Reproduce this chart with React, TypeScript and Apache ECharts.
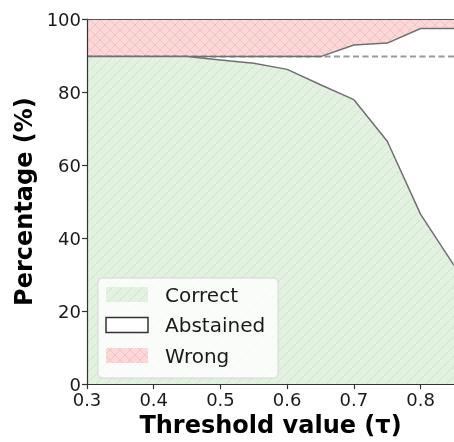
import React, { useEffect, useRef } from "react";
import * as echarts from "echarts";

const thresholds = [0.3, 0.35, 0.4, 0.45, 0.5, 0.55, 0.6, 0.65, 0.7, 0.75, 0.8, 0.85];
const correctPct = [89.7, 89.7, 89.7, 89.7, 88.8, 87.9, 86.2, 82.0, 77.9, 66.5, 46.5, 32.5];
const abstainedPct = [0, 0, 0, 0, 0.9, 1.8, 3.5, 7.7, 15.0, 26.9, 50.9, 64.9];
const wrongPct = [10.3, 10.3, 10.3, 10.3, 10.3, 10.3, 10.3, 10.3, 7.1, 6.6, 2.6, 2.6];
const baselinePct = 89.7;
const seriesNames = ["Correct", "Abstained", "Wrong"];
const xTickValues = [0.3, 0.4, 0.5, 0.6, 0.7, 0.8];
const yTickValues = [0, 20, 40, 60, 80, 100];

function hatch(bg: string, stroke: string, cross: boolean) {
  const s = 10;
  const c = document.createElement("canvas");
  c.width = s;
  c.height = s;
  const ctx = c.getContext("2d")!;
  ctx.fillStyle = bg;
  ctx.fillRect(0, 0, s, s);
  ctx.strokeStyle = stroke;
  ctx.lineWidth = 1;
  const seg = (a: number, b: number, c2: number, d: number) => {
    ctx.beginPath();
    ctx.moveTo(a, b);
    ctx.lineTo(c2, d);
    ctx.stroke();
  };
  seg(-2, s + 2, s + 2, -2);
  seg(-2, 2, 2, -2);
  seg(s - 2, s + 2, s + 2, s - 2);
  if (cross) {
    seg(-2, -2, s + 2, s + 2);
    seg(s - 2, -2, s + 2, 2);
    seg(-2, s - 2, 2, s + 2);
  }
  return c;
}

export default function App() {
  const ref = useRef<HTMLDivElement>(null);
  useEffect(() => {
    if (!ref.current) return;
    const chart = echarts.init(ref.current, null, { renderer: "svg" });
    const greenPat = { image: hatch("#e2f1e0", "#cfe6cc", false), repeat: "repeat" };
    const redPat = { image: hatch("#fcd8d9", "#f4c0c3", true), repeat: "repeat" };
    const greenPat2 = { image: hatch("#e2f1e0", "#cfe6cc", false), repeat: "repeat" };
    const redPat2 = { image: hatch("#fcd8d9", "#f4c0c3", true), repeat: "repeat" };
    const lineCol = "#707070";
    const font = "DejaVu Sans";
    // upper boundary of the abstained band = correct + abstained (= 100 - wrong)
    const upperPct = correctPct.map((c, i) => c + abstainedPct[i]);
    const pairs = (arr: number[]) => thresholds.map((t, i) => [t, arr[i]]);
    const xMin = thresholds[0];
    const xMax = thresholds[thresholds.length - 1];
    const legendFills = [greenPat2, "#ffffff", redPat2];
    const legendStrokes = [null, "#333333", null];
    const legendTop = 287;
    const legendStep = 30.5;
    const legendItems: any[] = [];
    seriesNames.forEach((n, i) => {
      legendItems.push({
        type: "rect",
        shape: { x: 106, y: legendTop + i * legendStep, width: 42, height: 15 },
        style: {
          fill: legendFills[i] as any,
          stroke: legendStrokes[i] || undefined,
          lineWidth: legendStrokes[i] ? 1.5 : 0,
        },
      });
      legendItems.push({
        type: "text",
        x: 165,
        y: legendTop + 7.5 + i * legendStep,
        style: {
          text: n,
          fill: "#1a1a1a",
          font: `20px '${font}'`,
          verticalAlign: "middle",
          align: "left",
        },
      });
    });
    chart.setOption({
      animation: false,
      grid: { left: 87, right: -3, top: 19, bottom: 57 },
      xAxis: [
        {
          type: "value",
          min: 0.3,
          max: 0.85,
          interval: 0.1,
          name: "Threshold value (τ)",
          nameLocation: "middle",
          nameGap: 26,
          nameTextStyle: { fontFamily: font, fontWeight: "bold", fontSize: 24, color: "#000" },
          axisLine: { show: true, lineStyle: { color: "#333", width: 1.2 } },
          axisTick: { show: true, length: 5, lineStyle: { color: "#333", width: 1.2 } },
          axisLabel: {
            fontFamily: font,
            fontSize: 18,
            color: "#1a1a1a",
            margin: 6,
            showMaxLabel: false,
            formatter: (v: number) => {
              const hit = xTickValues.find((t) => Math.abs(t - v) < 1e-6);
              return hit !== undefined ? hit.toFixed(1) : "";
            },
          },
          splitLine: { show: false },
          z: 10,
        },
        {
          type: "value",
          position: "top",
          min: 0.3,
          max: 0.85,
          axisLine: { show: true, onZero: false, lineStyle: { color: "#555", width: 1.2 } },
          axisTick: { show: false },
          axisLabel: { show: false },
          splitLine: { show: false },
          z: 10,
        },
      ],
      yAxis: {
        type: "value",
        min: 0,
        max: 100,
        interval: 20,
        name: "Percentage (%)",
        nameLocation: "middle",
        nameGap: 49,
        nameTextStyle: { fontFamily: font, fontWeight: "bold", fontSize: 24, color: "#000" },
        axisLine: { show: true, lineStyle: { color: "#333", width: 1.2 } },
        axisTick: { show: true, length: 5, lineStyle: { color: "#333", width: 1.2 } },
        axisLabel: {
          fontFamily: font,
          fontSize: 18,
          color: "#1a1a1a",
          margin: 6,
          formatter: (v: number) => (yTickValues.includes(v) ? String(v) : ""),
        },
        splitLine: { show: false },
        z: 10,
      },
      series: [
        {
          name: seriesNames[2],
          type: "line",
          data: pairs(upperPct),
          symbol: "none",
          lineStyle: { width: 0, opacity: 0 },
          areaStyle: { color: redPat as any, opacity: 1, origin: "end" },
          z: 1,
        },
        {
          name: "baseline",
          type: "line",
          data: [
            [xMin, baselinePct],
            [xMax, baselinePct],
          ],
          symbol: "none",
          lineStyle: { color: "#9a9a9a", width: 2, type: [6, 3.5] },
          z: 2,
        },
        {
          name: seriesNames[1],
          type: "line",
          data: pairs(upperPct),
          symbol: "none",
          lineStyle: { color: lineCol, width: 1.5 },
          z: 3,
        },
        {
          name: seriesNames[0],
          type: "line",
          data: pairs(correctPct),
          symbol: "none",
          lineStyle: { color: lineCol, width: 1.5 },
          areaStyle: { color: greenPat as any, opacity: 1 },
          z: 4,
        },
      ],
      graphic: [
        {
          type: "rect",
          shape: { x: 98, y: 278, width: 180, height: 100, r: 4 },
          style: { fill: "rgba(255,255,255,0.8)", stroke: "#d6d6d6", lineWidth: 1 },
          z: 100,
        },
        ...legendItems.map((it) => ({ ...it, z: 101 })),
      ],
    });
    return () => chart.dispose();
  }, []);
  return (
    <div
      ref={ref}
      style={{ position: "fixed", left: 0, top: 0, width: 454, height: 442 }}
    />
  );
}
